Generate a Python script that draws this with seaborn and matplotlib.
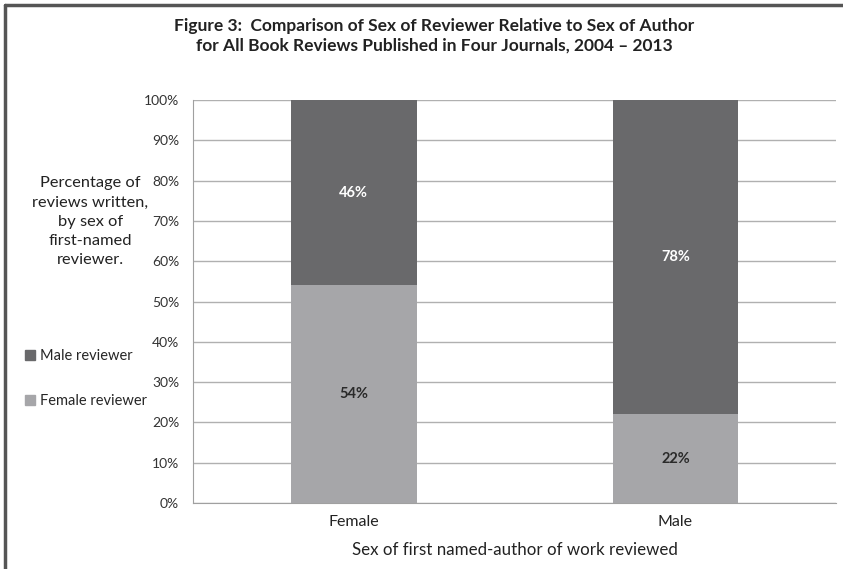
import numpy as np
import pandas as pd
import matplotlib
matplotlib.use('Agg')
import matplotlib.pyplot as plt
import seaborn as sns
from matplotlib.lines import Line2D

# data
author_sex = ['Female', 'Male']
female_reviewer = [54, 22]
male_reviewer = [46, 78]
y_ticks = list(range(0, 101, 10))

male_col = '#69696b'
female_col = '#a6a6a9'

sns.set_style('white')
plt.rcParams['font.family'] = ['Lato', 'DejaVu Sans']

df = pd.DataFrame({'author': author_sex,
                   'female': female_reviewer,
                   'male': male_reviewer})
df['total'] = df['female'] + df['male']

fig = plt.figure(figsize=(8.43, 5.69), dpi=100)
ax = fig.add_axes([0.229, 0.116, 0.763, 0.708])

# male stacked on top of female
sns.barplot(data=df, x='author', y='total', color=male_col, width=0.39,
            saturation=1, linewidth=0, ax=ax, zorder=3)
sns.barplot(data=df, x='author', y='female', color=female_col, width=0.39,
            saturation=1, linewidth=0, ax=ax, zorder=3)

# labels inside bars
for i, row in df.iterrows():
    ax.text(i, row['female'] / 2, f"{row['female']}%", ha='center', va='center',
            fontsize=10.5, fontweight='bold', color='#2a2a2a', zorder=4)
    ax.text(i, row['female'] + row['male'] / 2, f"{row['male']}%", ha='center',
            va='center', fontsize=10.5, fontweight='bold', color='white', zorder=4)

ax.set_ylim(0, 100)
ax.set_xlim(-0.5, 1.5)
ax.set_yticks(y_ticks)
ax.set_yticklabels([f'{t}%' for t in y_ticks], fontsize=10, color='#333333')
ax.yaxis.grid(True, color='#b0b0b0', linewidth=1, zorder=0)
ax.set_axisbelow(True)

for s in ['top', 'right']:
    ax.spines[s].set_visible(False)
ax.spines['left'].set_color('#a0a0a0')
ax.spines['bottom'].set_color('#a0a0a0')
ax.tick_params(axis='y', length=0, pad=10)

# x ticks at category boundaries
ax.set_xticks([0, 1])
ax.set_xticklabels(author_sex, fontsize=11.5, color='#222222')
ax.tick_params(axis='x', length=0, pad=9)
ax.set_xticks([-0.5, 0.5, 1.5], minor=True)
ax.tick_params(axis='x', which='minor', length=5, color='#a0a0a0')
ax.set_xlabel('Sex of first named-author of work reviewed', fontsize=12.2,
              color='#222222', labelpad=9)
ax.set_ylabel('')

fig.text(0.515, 0.968, 'Figure 3:  Comparison of Sex of Reviewer Relative to Sex of Author\n'
         'for All Book Reviews Published in Four Journals, 2004 \u2013 2013',
         ha='center', va='top', fontsize=12.5, fontweight='bold', color='#222222',
         linespacing=1.25)

fig.text(0.107, 0.61, 'Percentage of\nreviews written,\nby sex of\nfirst-named\nreviewer.',
         ha='center', va='center', fontsize=11.8, color='#222222', linespacing=1.48)

# legend
handles = [Line2D([], [], marker='s', linestyle='', color=male_col, markersize=7),
           Line2D([], [], marker='s', linestyle='', color=female_col, markersize=7)]
fig.legend(handles, ['Male reviewer', 'Female reviewer'], loc='upper left',
           bbox_to_anchor=(0.01, 0.41), frameon=False, fontsize=10.5,
           handletextpad=0.05, labelspacing=2.15, handlelength=1.2)

# frame lines
fig.add_artist(Line2D([0.006, 0.006], [0.0, 0.992], color='#555555', linewidth=2.5,
                      transform=fig.transFigure))
fig.add_artist(Line2D([0.006, 1.0], [0.992, 0.992], color='#555555', linewidth=2.5,
                      transform=fig.transFigure))

fig.savefig('out.png', dpi=100)
